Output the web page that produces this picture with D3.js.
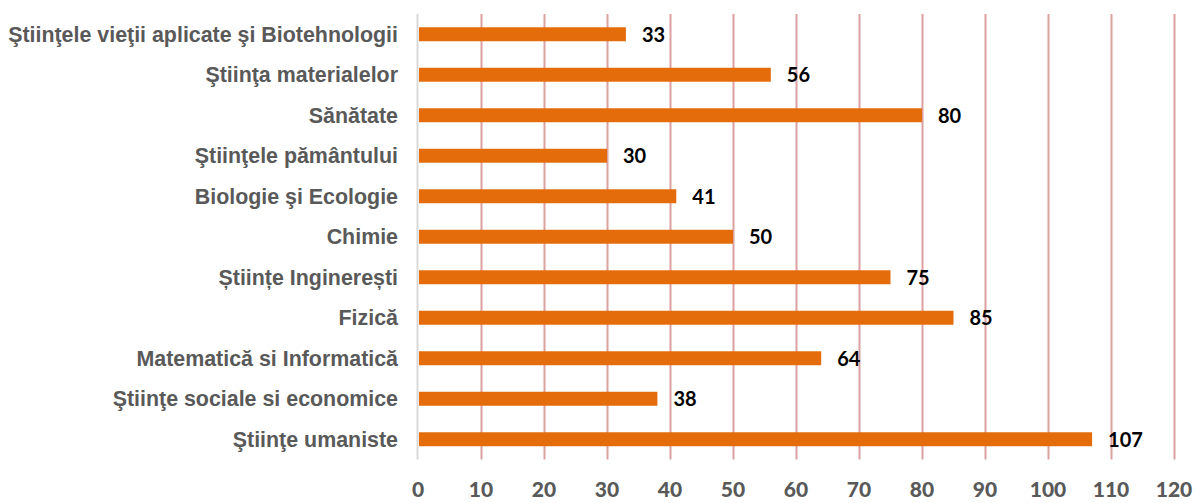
<!DOCTYPE html>
<html>
<head>
<meta charset="utf-8">
<script src="https://cdn.jsdelivr.net/npm/d3@7"></script>
<style>
  html, body { margin: 0; padding: 0; background: #fff; }
  svg { display: block; }
</style>
</head>
<body>
<svg id="chart" width="1196" height="503"></svg>
<script>
// Number of items per scientific domain
const categories = [
  "Ştiinţele vieţii aplicate şi Biotehnologii",
  "Ştiinţa materialelor",
  "Sănătate",
  "Ştiinţele pământului",
  "Biologie şi Ecologie",
  "Chimie",
  "Științe Inginerești",
  "Fizică",
  "Matematică si Informatică",
  "Ştiinţe sociale si economice",
  "Ştiinţe umaniste"
];
const values = [33, 56, 80, 30, 41, 50, 75, 85, 64, 38, 107];
const tickValues = [0, 10, 20, 30, 40, 50, 60, 70, 80, 90, 100, 110, 120];

const svg = d3.select("#chart");
const margin = { left: 418, right: 22, top: 14, bottom: 43.5 };
const W = 1196, H = 503;

const x = d3.scaleLinear().domain([0, 120]).range([margin.left, W - margin.right]);
const y = d3.scaleBand().domain(categories)
  .range([margin.top, H - margin.bottom])
  .paddingInner(0.655).paddingOuter(0.3275);

// vertical gridlines
svg.append("g").selectAll("line")
  .data(tickValues.filter(d => d > 0))
  .join("line")
  .attr("x1", d => Math.round(x(d)) + 0.5).attr("x2", d => Math.round(x(d)) + 0.5)
  .attr("y1", margin.top).attr("y2", H - margin.bottom)
  .attr("stroke", "#DDA0A0").attr("stroke-width", 2);

// category axis line
svg.append("line")
  .attr("x1", x(0) - 0.5).attr("x2", x(0) - 0.5)
  .attr("y1", margin.top).attr("y2", H - margin.bottom)
  .attr("stroke", "#D9D9D9").attr("stroke-width", 2);

// bars
svg.append("g").selectAll("rect")
  .data(values)
  .join("rect")
  .attr("x", x(0) + 1)
  .attr("y", (d, i) => y(categories[i]))
  .attr("width", d => x(d) - x(0) - 1)
  .attr("height", y.bandwidth())
  .attr("fill", "#E46C0A");

// value labels
svg.append("g").selectAll("text")
  .data(values)
  .join("text")
  .attr("x", d => x(d) + 16)
  .attr("y", (d, i) => y(categories[i]) + y.bandwidth() / 2 + 7.5)
  .attr("font-family", "Lato, 'Open Sans', sans-serif")
  .attr("font-weight", "bold")
  .attr("font-size", 20)
  .attr("fill", "#000")
  .text(d => d);

// category labels
svg.append("g").selectAll("text")
  .data(categories)
  .join("text")
  .attr("x", 398)
  .attr("y", d => y(d) + y.bandwidth() / 2 + 7.5)
  .attr("text-anchor", "end")
  .attr("font-family", "'Liberation Sans', Arial, sans-serif")
  .attr("font-weight", "bold")
  .attr("font-size", 21.4)
  .attr("fill", "#595959")
  .text(d => d);

// value axis tick labels
svg.append("g").selectAll("text")
  .data(tickValues)
  .join("text")
  .attr("x", d => x(d))
  .attr("y", 497)
  .attr("text-anchor", "middle")
  .attr("font-family", "Lato, 'Open Sans', sans-serif")
  .attr("font-weight", "900")
  .attr("font-size", 21)
  .attr("fill", "#595959")
  .text(d => d);
</script>
</body>
</html>
